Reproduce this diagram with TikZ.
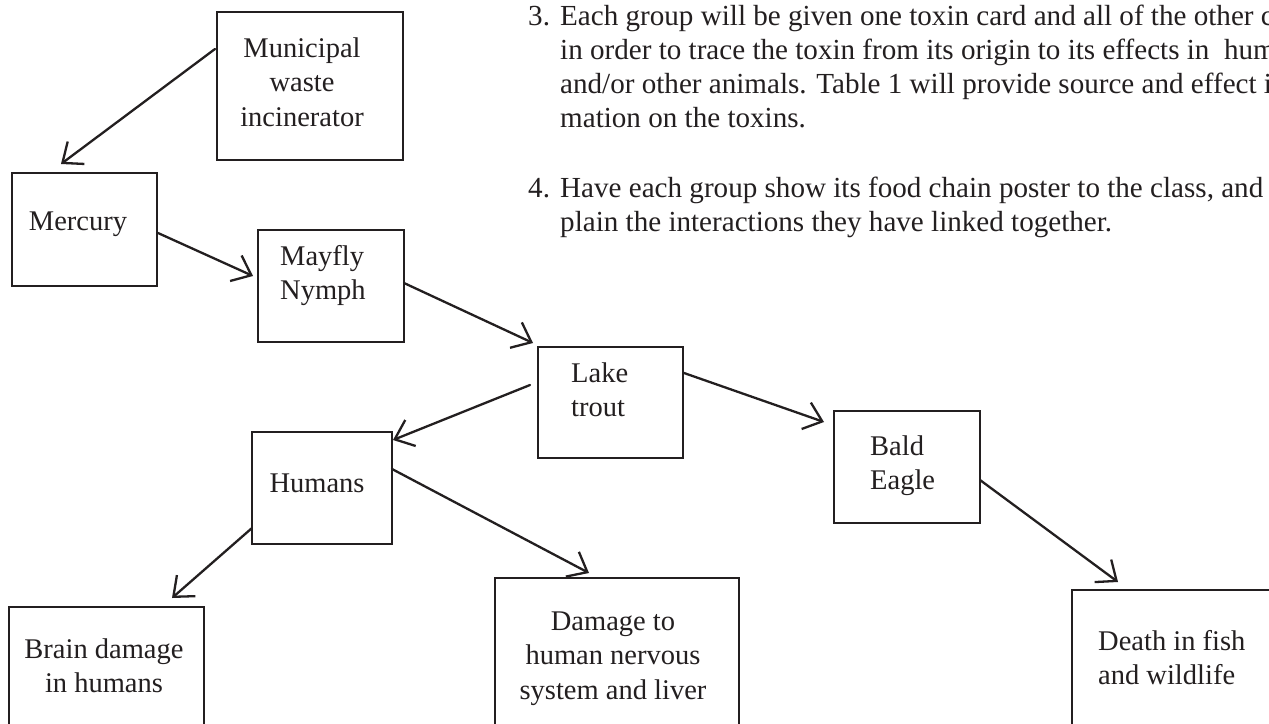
\documentclass[tikz,border=0pt]{standalone}
\usepackage{fontspec}
\setmainfont{Liberation Serif}
\usetikzlibrary{arrows.meta,calc}
\definecolor{ink}{HTML}{231F20}
\newcommand\ctxt[1]{\vtop{\halign{\hfil##\hfil\cr#1\crcr}}}
\newcommand\ltxt[1]{\vtop{\halign{##\hfil\cr#1\crcr}}}
\begin{document}
\begin{tikzpicture}[x=1pt,y=-1pt,
  box/.style={draw=ink, line width=2.8pt, rectangle, inner sep=0pt, outer sep=0pt, anchor=north west},
  txt/.style={text=ink, inner sep=0pt, anchor=base, font=\fontsize{28.5}{34.5}\selectfont},
  ltx/.style={txt, anchor=base west},
  para/.style={ltx, font=\fontsize{29.1}{34.2}\selectfont},
  arr/.style={draw=ink, line width=2.3pt, line cap=round, -{Straight Barb[length=17pt,width=28pt,line join=miter]}}
]
\useasboundingbox (0,0) rectangle (1269,723);
\clip (0,0) rectangle (1269,723);
\fill[white] (0,0) rectangle (1269,723);

% boxes
\node[box, minimum width=186pt, minimum height=148pt] (muni)  at (217,12)  {};
\node[box, minimum width=145pt, minimum height=113pt] (merc)  at (12,173)  {};
\node[box, minimum width=146pt, minimum height=112pt] (may)   at (258,230) {};
\node[box, minimum width=145pt, minimum height=111pt] (lake)  at (538,347) {};
\node[box, minimum width=146pt, minimum height=112pt] (eagle) at (834,411) {};
\node[box, minimum width=140pt, minimum height=112pt] (hum)   at (252,432) {};
\node[box, minimum width=195pt, minimum height=140pt] (brain) at (9,607)   {};
\node[box, minimum width=244pt, minimum height=170pt] (dmg)   at (495,578) {};
\node[box, minimum width=240pt, minimum height=160pt] (death) at (1072,590) {};

% box texts
\node[txt] (muniT)  at (302,57)  {\ctxt{Municipal\cr waste\cr incinerator}};
\node[txt] (mercT)  at (78,230)  {Mercury};
\node[ltx] (mayT)   at (280,265) {\ltxt{Mayfly\cr Nymph}};
\node[ltx] (lakeT)  at (571,382) {\ltxt{Lake\cr trout}};
\node[ltx] (eagleT) at (870,455) {\ltxt{Bald\cr Eagle}};
\node[txt] (humT)   at (317,492) {Humans};
\node[txt] (brainT) at (104,658) {\ctxt{Brain damage\cr in humans}};
\node[txt] (dmgT)   at (613,630) {\ctxt{Damage to\cr human nervous\cr system and liver}};
\node[ltx] (deathT) at (1098,650) {\ltxt{Death in fish\cr and wildlife}};

% paragraph text
\node[para] (n3) at (528,25) {3.};
\node[para] (p3) at (560,25) {\ltxt{Each group will be given one toxin card and all of the other cards\cr in order to trace the toxin from its origin to its effects in\ \ humans\cr and/or other animals. Table 1 will provide source and effect infor-\cr mation on the toxins.}};
\node[para] (n4) at (528,197) {4.};
\node[para] (p4) at (560,197) {\ltxt{Have each group show its food chain poster to the class, and ex-\cr plain the interactions they have linked together.}};

% arrows
\draw[arr] ($(muni.west)+(-2,-37)$) -- ($(merc.north)+(-23.5,-9)$);
\draw[arr] ($(merc.east)+(1,3.5)$) -- ($(may.west)+(-5,-10)$);
\draw[arr] ($(may.east)+(0,-3)$) -- ($(lake.north west)+(-5,-4)$);
\draw[arr] ($(lake.west)+(-8,-17.5)$) -- ($(hum.north east)+(1,8)$);
\draw[arr] ($(lake.east)+(1,-29.5)$) -- ($(eagle.north west)+(-10,11)$);
\draw[arr] ($(eagle.east)+(0,13)$) -- ($(death.north west)+(46,-8)$);
\draw[arr] ($(hum.west)+(0,40)$) -- ($(brain.north east)+(-32,-9)$);
\draw[arr] ($(hum.east)+(0,-19)$) -- ($(dmg.north west)+(94,-5)$);
\end{tikzpicture}
\end{document}
